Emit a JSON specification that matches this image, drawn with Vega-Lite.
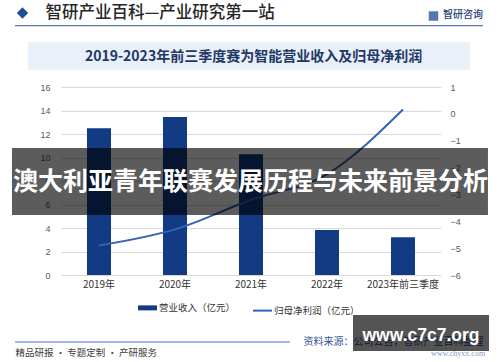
{
  "$schema": "https://vega.github.io/schema/vega-lite/v6.json",
  "width": 380,
  "height": 188,
  "autosize": {"type": "none"},
  "padding": {"left": 61, "top": 87, "right": 59, "bottom": 87},
  "background": "white",
  "config": {"view": {"stroke": null}, "font": "Noto Sans CJK SC"},
  "resolve": {"scale": {"x": "independent", "y": "independent"}},
  "layer": [
    {
      "data": {"values": [{}]},
      "mark": {"type": "rect", "color": "#e9f0fa"},
      "encoding": {
        "x": {"datum": -0.434, "type": "quantitative", "scale": {"domain": [0, 5], "nice": false, "zero": false}, "axis": null},
        "x2": {"datum": 5.382},
        "y": {"datum": 19.83, "type": "quantitative", "scale": {"domain": [0, 16], "nice": false, "zero": false}, "axis": null},
        "y2": {"datum": 17.45}
      }
    },
    {
      "data": {
        "values": [
          {"year": "2019年", "rev": 12.48, "profit": -4.9},
          {"year": "2020年", "rev": 13.45, "profit": -4.3},
          {"year": "2021年", "rev": 10.27, "profit": -3.2},
          {"year": "2022年", "rev": 3.83, "profit": -2.25},
          {"year": "2023年前三季度", "rev": 3.21, "profit": 0.16}
        ]
      },
      "resolve": {"scale": {"y": "independent"}},
      "layer": [
        {
          "mark": {"type": "bar"},
          "encoding": {
            "x": {
              "field": "year", "type": "nominal", "sort": null,
              "scale": {"paddingInner": 0.684, "paddingOuter": 0.342},
              "axis": {
                "orient": "bottom", "labelAngle": 0, "labelFontSize": 10, "labelColor": "#333333",
                "labelPadding": 4, "ticks": false, "domain": false,
                "title": "精品研报 · 专题定制 · 产研服务", "titleX": -46, "titleY": 77,
                "titleAlign": "left", "titleBaseline": "middle", "titleFontSize": 9.5,
                "titleFontWeight": "normal", "titleColor": "#404040"
              }
            },
            "y": {
              "field": "rev", "type": "quantitative",
              "scale": {"domain": [0, 16], "nice": false},
              "axis": {
                "orient": "left", "values": [0, 2, 4, 6, 8, 10, 12, 14, 16],
                "grid": true, "gridColor": "#d9d9d9", "domain": false, "ticks": false,
                "labelFont": "Liberation Sans", "labelFontSize": 9, "labelColor": "#595959", "labelPadding": 11,
                "title": "智研产业百科—产业研究第一站", "titleX": -16, "titleY": -75,
                "titleAngle": 0, "titleAlign": "left", "titleBaseline": "middle",
                "titleFontSize": 16.5, "titleFontWeight": 500, "titleColor": "#262626"
              }
            },
            "color": {
              "datum": "营业收入（亿元）",
              "scale": {"domain": ["营业收入（亿元）", "归母净利润（亿元）"], "range": ["#123b84", "#3463b5"]},
              "legend": {
                "orient": "none", "legendX": 77, "legendY": 216, "direction": "horizontal",
                "title": null, "symbolType": "stroke", "symbolSize": 361,
                "labelFontSize": 9.5, "labelColor": "#333333", "labelOffset": 3, "columnPadding": 13,
                "encode": {
                  "symbols": {
                    "update": {
                      "x": {"value": 9.5},
                      "size": {"value": 361},
                      "strokeWidth": {"signal": "datum.value === '营业收入（亿元）' ? 5 : 2"},
                      "strokeCap": {"value": "butt"},
                      "stroke": {"scale": "color", "field": "value"}
                    }
                  },
                  "labels": {
                    "update": {
                      "x": {"value": 21}
                    }
                  }
                }
              }
            }
          }
        },
        {
          "mark": {"type": "line", "interpolate": "monotone", "strokeWidth": 2},
          "encoding": {
            "x": {"field": "year", "type": "nominal", "sort": null},
            "y": {
              "field": "profit", "type": "quantitative",
              "scale": {"domain": [-6, 1], "nice": false, "zero": false},
              "axis": {
                "orient": "right", "values": [-6, -5, -4, -3, -2, -1, 0, 1],
                "grid": false, "domain": false, "ticks": false,
                "labelFont": "Liberation Sans", "labelFontSize": 9, "labelColor": "#595959", "labelPadding": 9,
                "title": "资料来源：公司公告，智研产业百科整理", "titleX": 42, "titleY": 254,
                "titleAngle": 0, "titleAlign": "right", "titleBaseline": "middle",
                "titleFontSize": 10, "titleFontWeight": "normal", "titleColor": "#2f5597"
              }
            },
            "color": {"datum": "归母净利润（亿元）"}
          }
        }
      ]
    },
    {
      "data": {"values": [{"t": "2019-2023年前三季度赛为智能营业收入及归母净利润"}]},
      "mark": {"type": "text", "fontSize": 14, "fontWeight": "bold", "color": "#1f3864", "align": "center", "baseline": "middle"},
      "encoding": {
        "text": {"field": "t"},
        "x": {"datum": 2.533, "type": "quantitative", "scale": {"domain": [0, 5], "nice": false, "zero": false}, "axis": null},
        "y": {"datum": 18.58, "type": "quantitative", "scale": {"domain": [0, 16], "nice": false, "zero": false}, "axis": null}
      }
    },
    {
      "data": {"values": [{}]},
      "mark": {"type": "rule", "color": "#2f5597", "strokeWidth": 1},
      "encoding": {
        "x": {"datum": -0.605, "type": "quantitative", "scale": {"domain": [0, 5], "nice": false, "zero": false}, "axis": null},
        "x2": {"datum": 5.553},
        "y": {"datum": 21.217, "type": "quantitative", "scale": {"domain": [0, 16], "nice": false, "zero": false}, "axis": null}
      }
    },
    {
      "data": {"values": [{}]},
      "mark": {"type": "rule", "color": "#4a72b8", "strokeWidth": 1.2},
      "encoding": {
        "x": {"datum": -0.605, "type": "quantitative", "scale": {"domain": [0, 5], "nice": false, "zero": false}, "axis": null},
        "x2": {"datum": 3.013},
        "y": {"datum": -5.7, "type": "quantitative", "scale": {"domain": [0, 16], "nice": false, "zero": false}, "axis": null}
      }
    },
    {
      "data": {"values": [{}]},
      "mark": {"type": "point", "shape": "diamond", "filled": true, "size": 130, "color": "#1f4e99", "opacity": 1},
      "encoding": {
        "x": {"datum": -0.507, "type": "quantitative", "scale": {"domain": [0, 5], "nice": false, "zero": false}, "axis": null},
        "y": {"datum": 22.3, "type": "quantitative", "scale": {"domain": [0, 16], "nice": false, "zero": false}, "axis": null}
      }
    },
    {
      "data": {"values": [{}]},
      "mark": {"type": "point", "shape": "square", "filled": true, "size": 90, "color": "#3b5fa0", "opacity": 0.85},
      "encoding": {
        "x": {"datum": 4.901, "type": "quantitative", "scale": {"domain": [0, 5], "nice": false, "zero": false}, "axis": null},
        "y": {"datum": 22.04, "type": "quantitative", "scale": {"domain": [0, 16], "nice": false, "zero": false}, "axis": null}
      }
    },
    {
      "data": {"values": [{"t": "智研咨询"}]},
      "mark": {"type": "text", "fontSize": 10, "fontWeight": 500, "color": "#1f3f7a", "align": "center", "baseline": "middle"},
      "encoding": {
        "text": {"field": "t"},
        "x": {"datum": 5.289, "type": "quantitative", "scale": {"domain": [0, 5], "nice": false, "zero": false}, "axis": null},
        "y": {"datum": 22.09, "type": "quantitative", "scale": {"domain": [0, 16], "nice": false, "zero": false}, "axis": null}
      }
    },
    {
      "data": {"values": [{}]},
      "mark": {"type": "rect", "color": "#000000", "opacity": 0.64},
      "encoding": {
        "x": {"datum": -0.645, "type": "quantitative", "scale": {"domain": [0, 5], "nice": false, "zero": false}, "axis": null},
        "x2": {"datum": 5.618},
        "y": {"datum": 10.81, "type": "quantitative", "scale": {"domain": [0, 16], "nice": false, "zero": false}, "axis": null},
        "y2": {"datum": 5.106}
      }
    },
    {
      "data": {"values": [{"t": "澳大利亚青年联赛发展历程与未来前景分析"}]},
      "mark": {"type": "text", "fontSize": 25, "fontWeight": "bold", "color": "#ffffff", "align": "center", "baseline": "middle"},
      "encoding": {
        "text": {"field": "t"},
        "x": {"datum": 2.493, "type": "quantitative", "scale": {"domain": [0, 5], "nice": false, "zero": false}, "axis": null},
        "y": {"datum": 7.91, "type": "quantitative", "scale": {"domain": [0, 16], "nice": false, "zero": false}, "axis": null}
      }
    },
    {
      "data": {"values": [{"t": "www.chyxx.com"}]},
      "mark": {"type": "text", "font": "Liberation Serif", "fontSize": 8, "color": "#8a9bc0", "align": "center", "baseline": "middle"},
      "encoding": {
        "text": {"field": "t"},
        "x": {"datum": 5.224, "type": "quantitative", "scale": {"domain": [0, 5], "nice": false, "zero": false}, "axis": null},
        "y": {"datum": -6.72, "type": "quantitative", "scale": {"domain": [0, 16], "nice": false, "zero": false}, "axis": null}
      }
    },
    {
      "data": {"values": [{}]},
      "mark": {"type": "rect", "color": "#000000", "opacity": 0.67},
      "encoding": {
        "x": {"datum": 3.842, "type": "quantitative", "scale": {"domain": [0, 5], "nice": false, "zero": false}, "axis": null},
        "x2": {"datum": 5.632},
        "y": {"datum": -3.404, "type": "quantitative", "scale": {"domain": [0, 16], "nice": false, "zero": false}, "axis": null},
        "y2": {"datum": -6.468}
      }
    },
    {
      "data": {"values": [{"t": "www.c7c7.org"}]},
      "mark": {"type": "text", "font": "Liberation Sans", "fontSize": 17.5, "fontWeight": "bold", "color": "#ffffff", "align": "center", "baseline": "alphabetic"},
      "encoding": {
        "text": {"field": "t"},
        "x": {"datum": 4.737, "type": "quantitative", "scale": {"domain": [0, 5], "nice": false, "zero": false}, "axis": null},
        "y": {"datum": -5.62, "type": "quantitative", "scale": {"domain": [0, 16], "nice": false, "zero": false}, "axis": null}
      }
    }
  ]
}
